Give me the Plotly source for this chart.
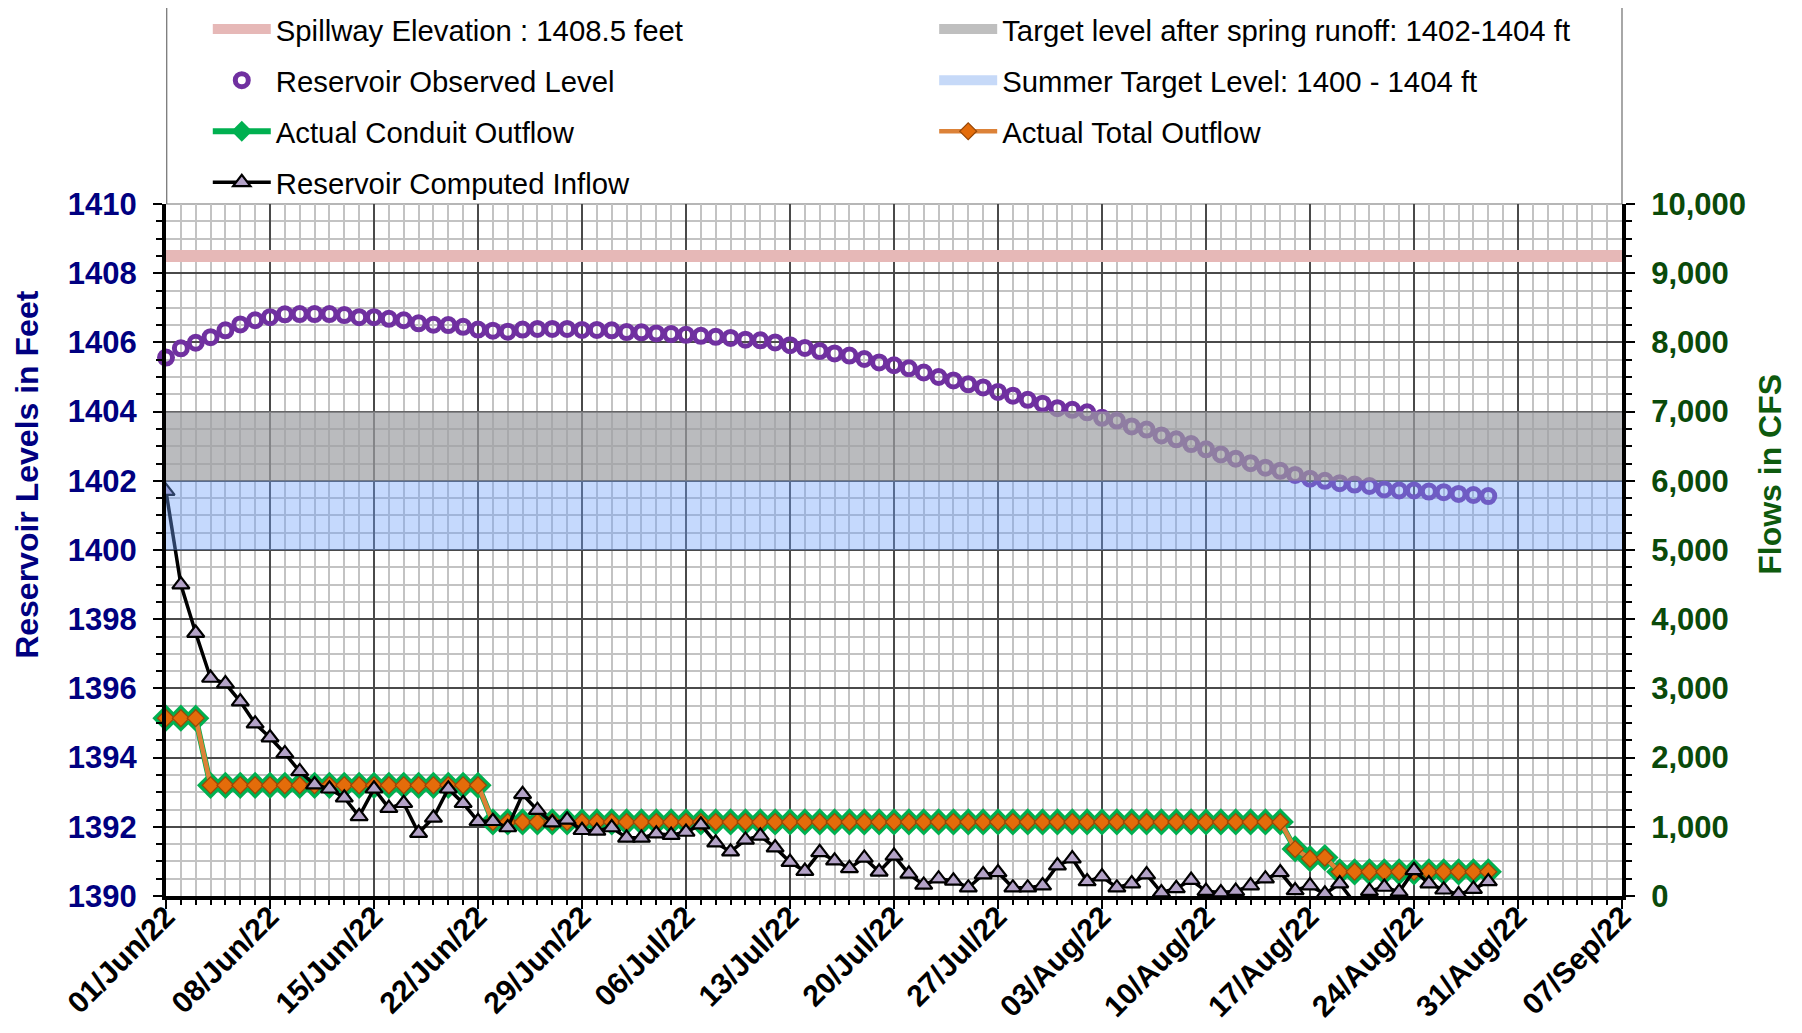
import pandas as pd
import plotly.graph_objects as go

# ---------------- data ----------------
START_DATE = "2022-06-01"
AXIS_RANGE = ["2022-06-01", "2022-09-07"]

observed_level = [
    1405.56, 1405.83, 1405.99, 1406.15, 1406.35, 1406.52, 1406.64, 1406.73, 1406.81, 1406.82,
    1406.82, 1406.82, 1406.79, 1406.73, 1406.73, 1406.68, 1406.64, 1406.55, 1406.51, 1406.50,
    1406.45, 1406.37, 1406.34, 1406.31, 1406.37, 1406.39, 1406.39, 1406.39, 1406.36, 1406.36,
    1406.35, 1406.30, 1406.29, 1406.26, 1406.24, 1406.22, 1406.19, 1406.16, 1406.13, 1406.08,
    1406.06, 1406.00, 1405.92, 1405.84, 1405.75, 1405.68, 1405.62, 1405.52, 1405.42, 1405.34,
    1405.25, 1405.13, 1405.00, 1404.90, 1404.79, 1404.70, 1404.57, 1404.46, 1404.34, 1404.23,
    1404.10, 1404.05, 1403.98, 1403.82, 1403.74, 1403.57, 1403.48, 1403.31, 1403.20, 1403.06,
    1402.91, 1402.76, 1402.64, 1402.51, 1402.38, 1402.29, 1402.17, 1402.06, 1402.00, 1401.93,
    1401.89, 1401.85, 1401.75, 1401.72, 1401.72, 1401.69, 1401.67, 1401.62, 1401.59, 1401.56,
]

conduit_outflow = (
    [2570] * 3 + [1600] * 19 + [1070] * 54 + [680, 540, 555] + [350] * 11
)
total_outflow = list(conduit_outflow)

computed_inflow = [
    5850, 4500, 3800, 3150, 3070, 2810, 2490, 2290, 2060, 1800,
    1610, 1550, 1420, 1150, 1550, 1270, 1340, 910, 1130, 1550,
    1340, 1080, 1080, 990, 1470, 1240, 1060, 1100, 950, 940,
    990, 840, 840, 900, 880, 925, 1030, 770, 640, 810,
    870, 700, 490, 360, 630, 510, 400, 550, 350, 580,
    320, 160, 250, 220, 120, 310, 340, 120, 120, 150,
    440, 540, 210, 280, 120, 180, 310, 50, 110, 230,
    70, 50, 70, 150, 250, 340, 80, 150, 30, 180,
    -100, 70, 130, 60, 370, 180, 90, 20, 100, 210,
]

spillway_elevation = [1408.5, 1408.5]
runoff_target = [1402, 1404]
summer_target = [1400, 1402]

dates = pd.date_range(START_DATE, periods=len(observed_level), freq="D")

# ---------------- styling ----------------
FONT = "Liberation Sans, Arial, sans-serif"
NAVY = "#000080"
DKGREEN = "#0A4A0A"

fig = go.Figure()

fig.add_trace(go.Scatter(
    x=AXIS_RANGE, y=spillway_elevation, mode="lines",
    name="Spillway Elevation : 1408.5 feet",
    line=dict(color="#E6B8B7", width=12),
    legend="legend", legendgroup="a1", legendrank=1, cliponaxis=True,
))
fig.add_trace(go.Scatter(
    x=dates, y=observed_level, mode="markers",
    name="Reservoir Observed Level",
    marker=dict(symbol="circle-open", size=13, color="#7030A0",
                line=dict(color="#7030A0", width=5)),
    legend="legend", legendgroup="a2", legendrank=2, cliponaxis=False,
))
fig.add_trace(go.Scatter(
    x=dates, y=conduit_outflow, mode="lines+markers", yaxis="y2",
    name="Actual Conduit Outflow",
    line=dict(color="#00B050", width=6),
    marker=dict(symbol="diamond", size=21, color="#00B050"),
    legend="legend", legendgroup="a3", legendrank=3, cliponaxis=False,
))
fig.add_trace(go.Scatter(
    x=dates, y=total_outflow, mode="lines+markers", yaxis="y2",
    name="Actual Total Outflow",
    line=dict(color="#DC8238", width=4.5),
    marker=dict(symbol="diamond", size=13, color="#E46C0A",
                line=dict(color="#984807", width=1.2)),
    legend="legend2", legendgroup="b3", legendrank=3, cliponaxis=False,
))
fig.add_trace(go.Scatter(
    x=dates, y=computed_inflow, mode="lines+markers", yaxis="y2",
    name="Reservoir Computed Inflow",
    line=dict(color="black", width=3.5),
    marker=dict(symbol="triangle-up", size=15, color="#B3A2C7",
                line=dict(color="black", width=2.2)),
    legend="legend", legendgroup="a4", legendrank=4, cliponaxis=True,
))
# legend entries for the target bands (bands themselves are shapes drawn on top)
fig.add_trace(go.Scatter(
    x=[None], y=[None], mode="lines",
    name="Target level after spring runoff: 1402-1404 ft",
    line=dict(color="#BFBFBF", width=12),
    legend="legend2", legendgroup="b1", legendrank=1,
))
fig.add_trace(go.Scatter(
    x=[None], y=[None], mode="lines",
    name="Summer Target Level: 1400 - 1404 ft",
    line=dict(color="#C6D9F8", width=12),
    legend="legend2", legendgroup="b2", legendrank=2,
))

shapes = [
    dict(type="rect", xref="paper", x0=0, x1=1, yref="y",
         y0=runoff_target[0], y1=runoff_target[1],
         fillcolor="rgba(156,158,162,0.7)", line=dict(width=0), layer="above"),
    dict(type="rect", xref="paper", x0=0, x1=1, yref="y",
         y0=summer_target[0], y1=summer_target[1],
         fillcolor="rgba(110,160,250,0.4)", line=dict(width=0), layer="above"),
    # legend frame
    dict(type="rect", xref="paper", x0=0.0005, x1=1, yref="paper", y0=1, y1=1.2861,
         line=dict(color="#6E6E6E", width=1.2), fillcolor="rgba(0,0,0,0)", layer="below"),
]

# page body has an 8px margin; figure coordinates = window coordinates - 8
fig.update_layout(
    width=1786, height=1017,
    margin=dict(l=158, r=172, t=196, b=129, autoexpand=False),
    paper_bgcolor="white", plot_bgcolor="white",
    font=dict(family=FONT, size=29, color="black"),
    showlegend=True,
    shapes=shapes,
    xaxis=dict(
        type="date", range=AXIS_RANGE, automargin=False,
        tick0=START_DATE, dtick=7 * 86400000, tickformat="%d/%b/%y",
        tickangle=-45, tickfont=dict(family=FONT, size=30, weight="bold", color="black"),
        showgrid=True, gridcolor="#4A4A4A", gridwidth=1.5,
        showline=True, linecolor="black", linewidth=4,
        ticks="outside", ticklen=9, tickwidth=2, tickcolor="black",
        minor=dict(dtick=86400000, showgrid=True, gridcolor="#C3C3C3", gridwidth=2,
                   ticks="outside", ticklen=5, tickwidth=1.5, tickcolor="black"),
        zeroline=False, ticklabelstandoff=-22,
    ),
    yaxis=dict(
        range=[1390, 1410], dtick=2, tick0=1390, automargin=False,
        tickfont=dict(family=FONT, size=31, weight="bold", color=NAVY),
        showgrid=True, gridcolor="#4A4A4A", gridwidth=1.5,
        showline=True, linecolor="black", linewidth=4,
        ticks="outside", ticklen=9, tickwidth=2, tickcolor="black",
        minor=dict(dtick=0.5, showgrid=True, gridcolor="#C3C3C3", gridwidth=2,
                   ticks="outside", ticklen=6, tickwidth=1.5, tickcolor="black"),
        zeroline=False, ticklabelstandoff=10,
    ),
    yaxis2=dict(
        overlaying="y", side="right", range=[0, 10000], dtick=1000, tick0=0,
        tickformat=",d", automargin=False,
        tickfont=dict(family=FONT, size=31, weight="bold", color=DKGREEN),
        showgrid=False,
        showline=True, linecolor="black", linewidth=4,
        ticks="outside", ticklen=9, tickwidth=2, tickcolor="black",
        minor=dict(dtick=250, ticks="outside", ticklen=6, tickwidth=1.5, tickcolor="black"),
        zeroline=False, ticklabelstandoff=10,
    ),
    legend=dict(
        x=0.0287, y=1.2897, xanchor="left", yanchor="top",
        orientation="v", traceorder="grouped", tracegroupgap=10,
        bgcolor="rgba(0,0,0,0)", borderwidth=0, itemwidth=58,
        font=dict(family=FONT, size=29.3, color="black"),
        itemclick=False, itemdoubleclick=False,
    ),
    legend2=dict(
        x=0.5276, y=1.2897, xanchor="left", yanchor="top",
        orientation="v", traceorder="grouped", tracegroupgap=10,
        bgcolor="rgba(0,0,0,0)", borderwidth=0, itemwidth=58,
        font=dict(family=FONT, size=29.3, color="black"),
        itemclick=False, itemdoubleclick=False,
    ),
    annotations=[
        dict(text="<b>Reservoir Levels in Feet</b>", xref="paper", yref="paper",
             x=-0.0955, y=0.61, xanchor="center", yanchor="middle", textangle=-90,
             showarrow=False, font=dict(family=FONT, size=32, color=NAVY)),
        dict(text="<b>Flows in CFS</b>", xref="paper", yref="paper",
             x=1.1016, y=0.61, xanchor="center", yanchor="middle", textangle=-90,
             showarrow=False, font=dict(family=FONT, size=32, color="#0E5A0E")),
    ],
)

fig.write_html("out.html")
